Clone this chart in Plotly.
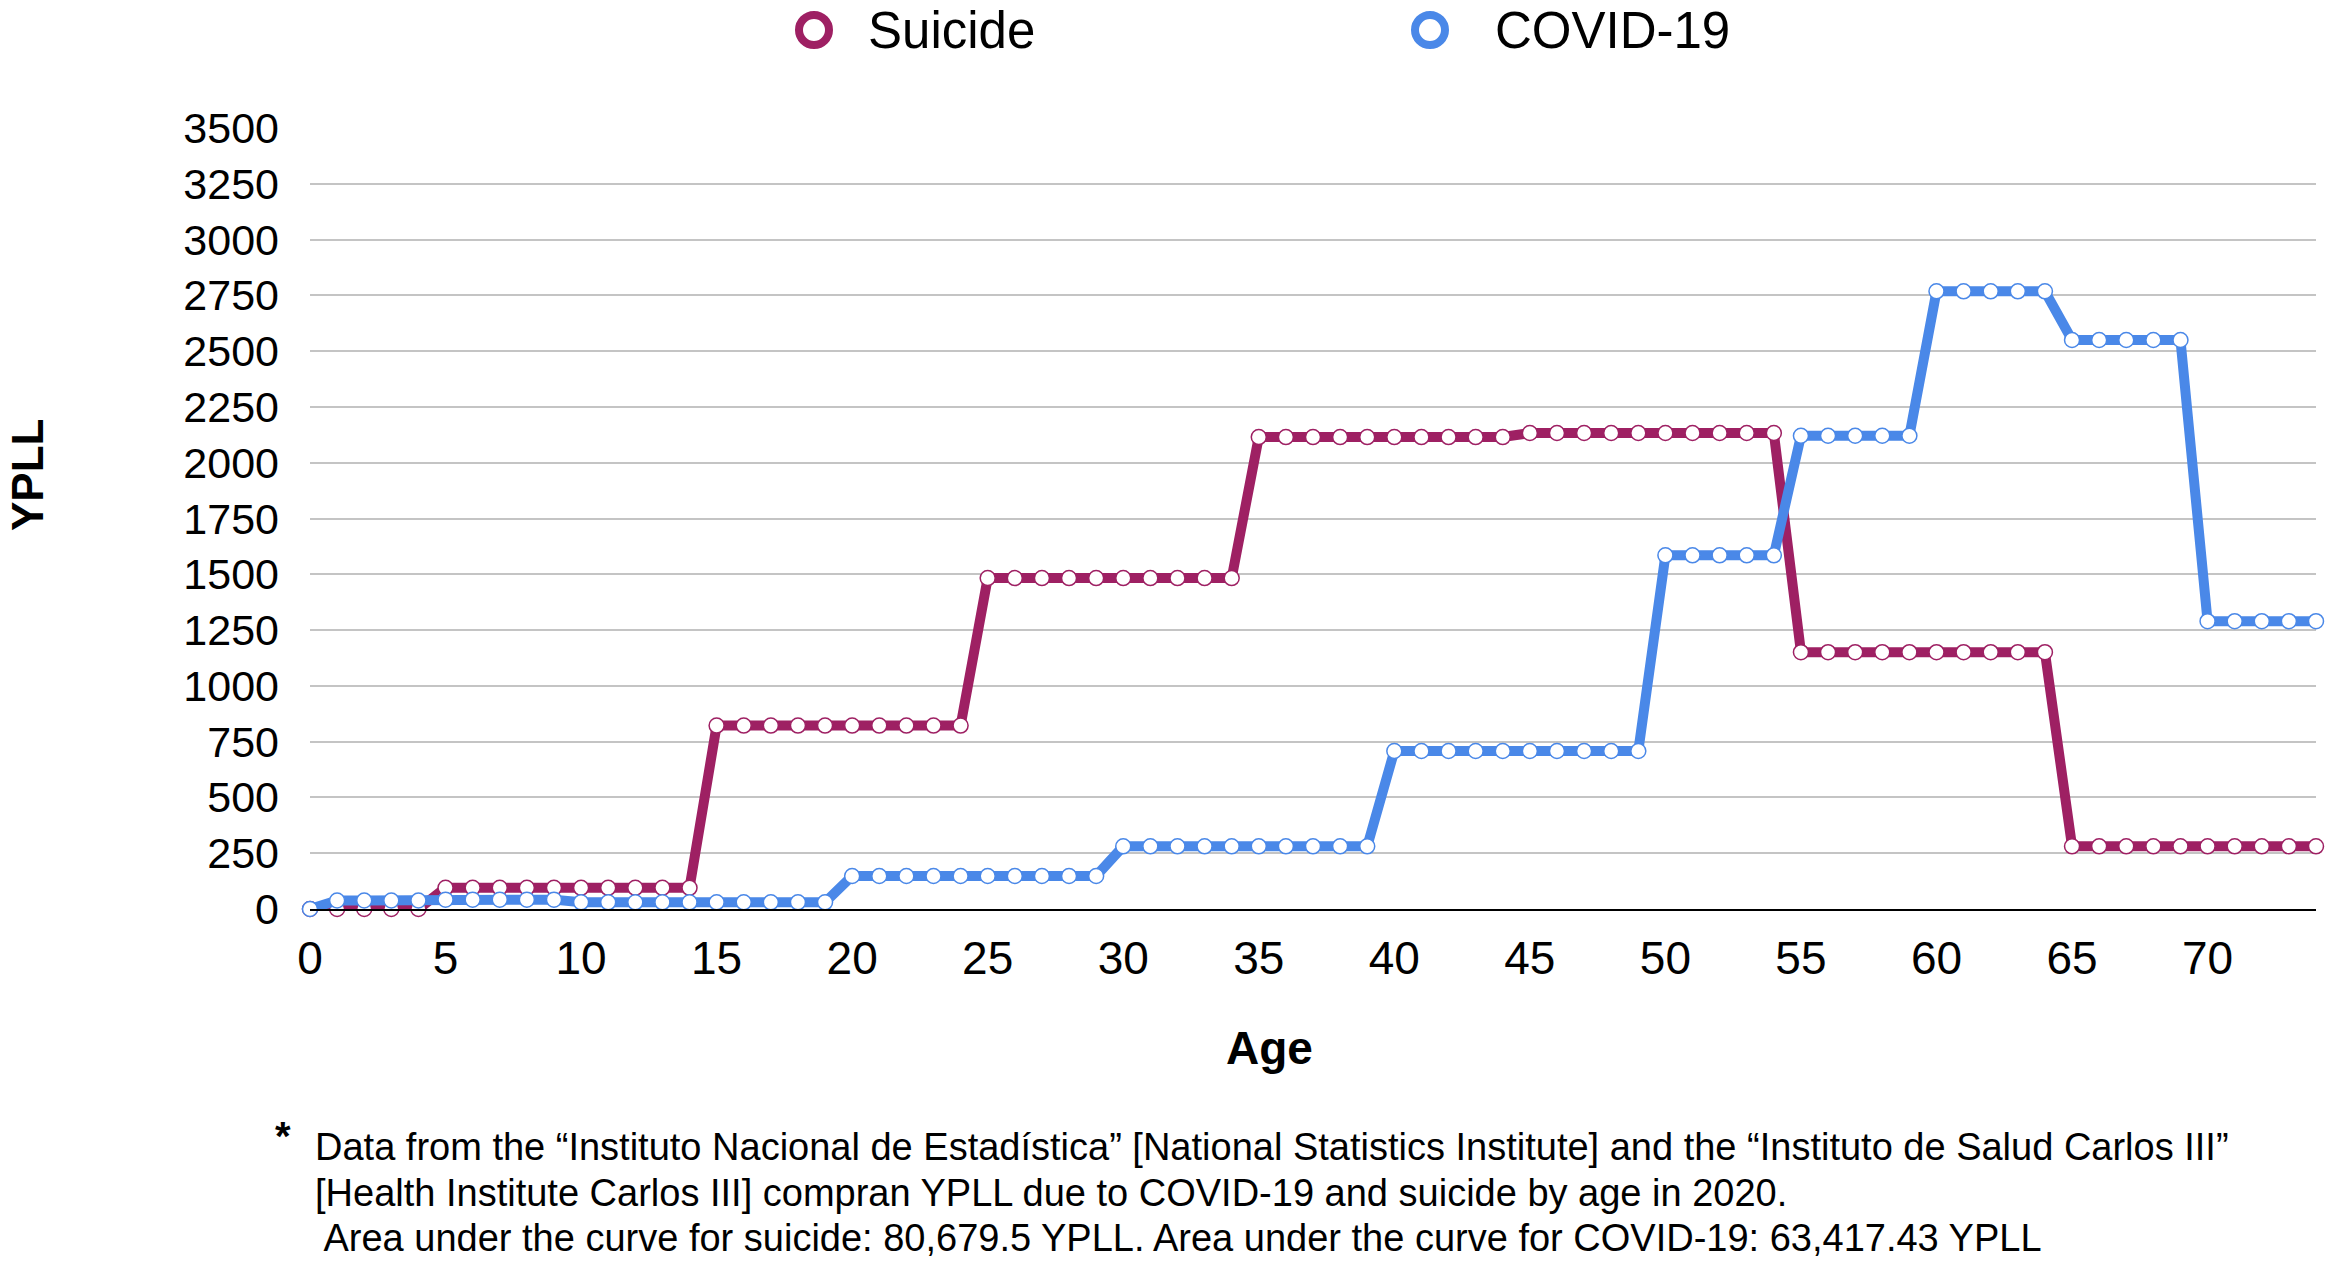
import plotly.graph_objects as go

ages = [a for a in range(0, 75)]

suicide = [0, 0, 0, 0, 0,
           95, 95, 95, 95, 95, 95, 95, 95, 95, 95,
           822, 822, 822, 822, 822, 822, 822, 822, 822, 822,
           1483, 1483, 1483, 1483, 1483, 1483, 1483, 1483, 1483, 1483,
           2115, 2115, 2115, 2115, 2115, 2115, 2115, 2115, 2115, 2115,
           2133, 2133, 2133, 2133, 2133, 2133, 2133, 2133, 2133, 2133,
           1151, 1151, 1151, 1151, 1151, 1151, 1151, 1151, 1151, 1151,
           281, 281, 281, 281, 281, 281, 281, 281, 281, 281]

covid = [0, 38, 38, 38, 38,
         42, 42, 42, 42, 42,
         30, 30, 30, 30, 30, 30, 30, 30, 30, 30,
         148, 148, 148, 148, 148, 148, 148, 148, 148, 148,
         281, 281, 281, 281, 281, 281, 281, 281, 281, 281,
         708, 708, 708, 708, 708, 708, 708, 708, 708, 708,
         1585, 1585, 1585, 1585, 1585,
         2121, 2121, 2121, 2121, 2121,
         2768, 2768, 2768, 2768, 2768,
         2550, 2550, 2550, 2550, 2550,
         1290, 1290, 1290, 1290, 1290]

x_ticks = [0, 5, 10, 15, 20, 25, 30, 35, 40, 45, 50, 55, 60, 65, 70]
y_ticks = [0, 250, 500, 750, 1000, 1250, 1500, 1750, 2000, 2250, 2500, 2750, 3000, 3250, 3500]

series_names = ["Suicide", "COVID-19"]
footnote = [
    "Data from the \u201cInstituto Nacional de Estad\u00edstica\u201d [National Statistics Institute] and the \u201cInstituto de Salud Carlos III\u201d",
    "[Health Institute Carlos III] compran YPLL due to COVID-19 and suicide by age in 2020.",
    " Area under the curve for suicide: 80,679.5 YPLL. Area under the curve for COVID-19: 63,417.43 YPLL",
]

C_SUI = "#9e2063"
C_COV = "#4a88e8"

W, H = 2341, 1269
L, R, T, B = 310, 25, 128, 360
PW, PH = W - L - R, H - T - B


def px(xp):
    return (xp - L) / PW


def py(yp):
    return (H - B - yp) / PH


FONT = "Liberation Sans, Arial, Helvetica, sans-serif"

fig = go.Figure()
for name, vals, col in [(series_names[0], suicide, C_SUI), (series_names[1], covid, C_COV)]:
    fig.add_trace(go.Scatter(
        x=ages, y=vals, name=name, mode="lines+markers",
        line=dict(color=col, width=10),
        marker=dict(size=15, color="white", line=dict(color=col, width=1.5)),
        cliponaxis=False, showlegend=False,
    ))

fig.update_layout(
    width=W, height=H,
    margin=dict(l=L, r=R, t=T, b=B),
    paper_bgcolor="white", plot_bgcolor="white",
    font=dict(family=FONT, color="black"),
    showlegend=False,
    xaxis=dict(range=[0, 74], tickvals=x_ticks, ticktext=[str(v) for v in x_ticks],
               showgrid=False, zeroline=False, showline=True, linecolor="black", linewidth=2,
               ticks="", ticklabelstandoff=8, tickfont=dict(size=46, family=FONT)),
    yaxis=dict(range=[0, 3500], tickvals=y_ticks, ticktext=[str(v) for v in y_ticks],
               showgrid=True, gridcolor="#c4c4c4", gridwidth=1.5, zeroline=False, showline=False,
               ticks="", ticklabelstandoff=30, tickfont=dict(size=43, family=FONT)),
)

# custom legend
for cx, col, tx, name in [(814, C_SUI, 866, series_names[0]), (1430, C_COV, 1493, series_names[1])]:
    fig.add_shape(type="circle", xref="paper", yref="paper", xsizemode="pixel", ysizemode="pixel",
                  xanchor=px(cx), yanchor=py(30), x0=-15, x1=15, y0=-15, y1=15,
                  line=dict(color=col, width=8), fillcolor="white", layer="above")
    fig.add_annotation(x=px(tx), y=py(30), xref="paper", yref="paper", text=name, showarrow=False,
                       xanchor="left", yanchor="middle", font=dict(size=51, family=FONT, color="black"))

fig.add_annotation(x=px(27), y=py(475), xref="paper", yref="paper", text="<b>YPLL</b>", showarrow=False,
                   textangle=-90, xanchor="center", yanchor="middle", font=dict(size=44, family=FONT))
fig.add_annotation(x=px(1269), y=py(1048), xref="paper", yref="paper", text="<b>Age</b>", showarrow=False,
                   xanchor="center", yanchor="middle", font=dict(size=46, family=FONT))

fig.add_annotation(x=px(283), y=py(1136), xref="paper", yref="paper", text="<b>*</b>", showarrow=False,
                   xanchor="center", yanchor="middle", font=dict(size=40, family=FONT))
for i, (line, yy) in enumerate(zip(footnote, [1147, 1193, 1238])):
    fig.add_annotation(x=px(313), y=py(yy), xref="paper", yref="paper", text=line, showarrow=False,
                       xanchor="left", yanchor="middle", font=dict(size=38, family=FONT))

fig.write_html("out.html", config={"displayModeBar": False},
               post_script="document.body.style.margin='0';document.body.style.overflow='hidden';")
